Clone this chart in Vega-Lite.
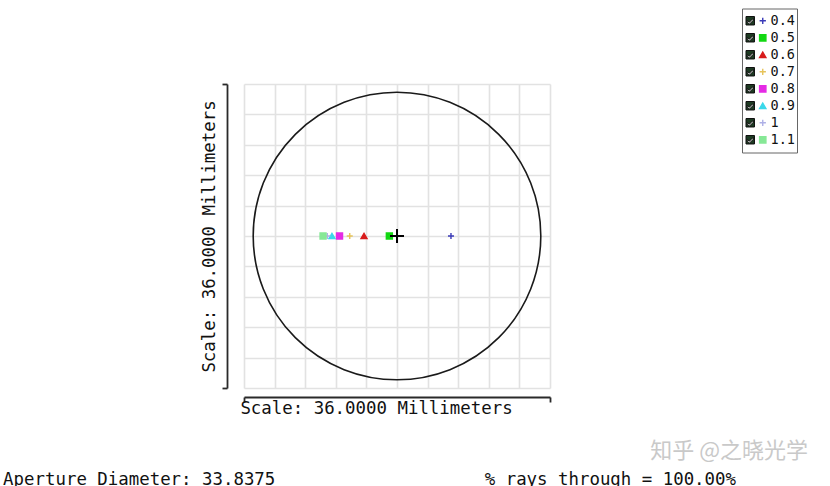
{
  "$schema": "https://vega.github.io/schema/vega-lite/v6.json",
  "width": 306,
  "height": 304,
  "autosize": {"type": "none"},
  "padding": {"left": 244, "top": 84, "right": 280, "bottom": 98},
  "background": "white",
  "config": {"view": {"stroke": null}, "font": "DejaVu Sans Mono"},
  "datasets": {
    "spots": [
      {"wavelength": "0.4", "x": 6.35, "y": 0},
      {"wavelength": "0.5", "x": -0.9, "y": 0},
      {"wavelength": "0.6", "x": -3.88, "y": 0},
      {"wavelength": "0.7", "x": -5.56, "y": 0},
      {"wavelength": "0.8", "x": -6.76, "y": 0},
      {"wavelength": "0.9", "x": -7.65, "y": 0},
      {"wavelength": "1", "x": -8.2, "y": 0},
      {"wavelength": "1.1", "x": -8.7, "y": 0}
    ],
    "legendItems": [
      {"wavelength": "0.4"}, {"wavelength": "0.5"}, {"wavelength": "0.6"}, {"wavelength": "0.7"},
      {"wavelength": "0.8"}, {"wavelength": "0.9"}, {"wavelength": "1"}, {"wavelength": "1.1"}
    ],
    "aperture": [{"x": 0, "y": 0, "diameter": 33.8375}],
    "chief": [{"x": 0, "y": 0}]
  },
  "title": {
    "text": "知乎 @之晓光学",
    "subtitle": "Aperture Diameter: 33.8375\u00a0\u00a0\u00a0\u00a0\u00a0\u00a0\u00a0\u00a0\u00a0\u00a0\u00a0\u00a0\u00a0\u00a0\u00a0\u00a0\u00a0\u00a0\u00a0\u00a0% rays through = 100.00%\u2800\u2800\u2800\u2800\u2800\u2800",
    "orient": "bottom",
    "anchor": "end",
    "frame": "group",
    "dx": 258,
    "offset": 25,
    "font": "Noto Sans CJK SC",
    "fontSize": 22,
    "fontWeight": "normal",
    "color": "#c9c9c9",
    "subtitleFont": "DejaVu Sans Mono",
    "subtitleFontSize": 17.4,
    "subtitleColor": "#111111",
    "subtitlePadding": 8
  },
  "layer": [
    {
      "data": {"name": "aperture"},
      "mark": {"type": "point", "shape": "circle", "filled": false, "stroke": "#1a1a1a", "strokeWidth": 1.6, "opacity": 1},
      "encoding": {
        "x": {
          "field": "x", "type": "quantitative",
          "scale": {"domain": [-18, 18], "nice": false, "zero": false},
          "axis": {
            "values": [-18, -14.4, -10.8, -7.2, -3.6, 0, 3.6, 7.2, 10.8, 14.4, 18],
            "tickCount": 40,
            "grid": true, "gridColor": "#e2e2e2", "gridWidth": 1.6,
            "labels": false,
            "domain": true, "domainColor": "#2a2a2a", "domainWidth": 1.8,
            "ticks": true, "tickColor": "#2a2a2a", "tickWidth": 1.8, "tickSize": 5,
            "tickOpacity": {"condition": {"test": "abs(datum.value) > 17", "value": 1}, "value": 0},
            "offset": 9,
            "title": "Scale: 36.0000 Millimeters",
            "titleFont": "DejaVu Sans Mono", "titleFontSize": 17.4, "titleFontWeight": "normal", "titleColor": "#111111",
            "titleX": 132, "titleY": 16, "titleBaseline": "alphabetic", "titleAlign": "center"
          }
        },
        "y": {
          "field": "y", "type": "quantitative",
          "scale": {"domain": [-18, 18], "nice": false, "zero": false},
          "axis": {
            "values": [-18, -14.4, -10.8, -7.2, -3.6, 0, 3.6, 7.2, 10.8, 14.4, 18],
            "tickCount": 40,
            "grid": true, "gridColor": "#e2e2e2", "gridWidth": 1.6,
            "labels": false,
            "domain": true, "domainColor": "#2a2a2a", "domainWidth": 1.8,
            "ticks": true, "tickColor": "#2a2a2a", "tickWidth": 1.8, "tickSize": 5,
            "tickOpacity": {"condition": {"test": "abs(datum.value) > 17", "value": 1}, "value": 0},
            "offset": 17,
            "title": "Scale: 36.0000 Millimeters",
            "titleFont": "DejaVu Sans Mono", "titleFontSize": 17.4, "titleFontWeight": "normal", "titleColor": "#111111",
            "titleX": -13, "titleY": 152, "titleBaseline": "alphabetic", "titleAlign": "center", "titleAngle": -90
          }
        },
        "size": {
          "field": "diameter", "type": "quantitative",
          "scale": {"type": "pow", "exponent": 2, "domain": [0, 36], "range": [0, 93636]},
          "legend": null
        }
      }
    },
    {
      "data": {"name": "spots"},
      "mark": {"type": "point", "filled": true, "size": 36, "strokeWidth": 1.4, "opacity": 1},
      "encoding": {
        "x": {"field": "x", "type": "quantitative"},
        "y": {"field": "y", "type": "quantitative"},
        "color": {
          "field": "wavelength", "type": "nominal",
          "scale": {
            "domain": ["0.4", "0.5", "0.6", "0.7", "0.8", "0.9", "1", "1.1"],
            "range": ["#3a3ab8", "#12d812", "#d81c1c", "#e6c35a", "#e52ae5", "#3ad8ea", "#aeb0e6", "#86e896"]
          },
          "legend": {
            "orient": "none", "legendX": 512, "legendY": -69.95,
            "title": null, "padding": 0,
            "labelFont": "DejaVu Sans Mono", "labelFontSize": 13.5, "labelColor": "#111111",
            "labelOffset": 1, "rowPadding": 2, "symbolSize": 40, "symbolStrokeWidth": 1.4, "zindex": 1
          }
        },
        "stroke": {
          "field": "wavelength", "type": "nominal",
          "scale": {
            "domain": ["0.4", "0.5", "0.6", "0.7", "0.8", "0.9", "1", "1.1"],
            "range": ["#3a3ab8", "#12d812", "#d81c1c", "#e6c35a", "#e52ae5", "#3ad8ea", "#aeb0e6", "#86e896"]
          },
          "legend": {
            "orient": "none", "legendX": 512, "legendY": -69.95,
            "title": null, "padding": 0,
            "labelFont": "DejaVu Sans Mono", "labelFontSize": 13.5, "labelColor": "#111111",
            "labelOffset": 1, "rowPadding": 2, "symbolSize": 40, "symbolStrokeWidth": 1.4, "zindex": 1
          }
        },
        "shape": {
          "field": "wavelength", "type": "nominal",
          "scale": {
            "domain": ["0.4", "0.5", "0.6", "0.7", "0.8", "0.9", "1", "1.1"],
            "range": ["M-1,0H1M0,-1V1", "square", "triangle-up", "M-1,0H1M0,-1V1", "square", "triangle-up", "M-1,0H1M0,-1V1", "square"]
          },
          "legend": {
            "orient": "none", "legendX": 512, "legendY": -69.95,
            "title": null, "padding": 0,
            "labelFont": "DejaVu Sans Mono", "labelFontSize": 13.5, "labelColor": "#111111",
            "labelOffset": 1, "rowPadding": 2, "symbolSize": 40, "symbolStrokeWidth": 1.4, "zindex": 1
          }
        }
      }
    },
    {
      "data": {"name": "chief"},
      "mark": {"type": "point", "shape": "M-1,0H1M0,-1V1", "filled": false, "stroke": "#000000", "strokeWidth": 2, "size": 196, "opacity": 1},
      "encoding": {
        "x": {"field": "x", "type": "quantitative"},
        "y": {"field": "y", "type": "quantitative"}
      }
    },
    {
      "data": {"name": "legendItems"},
      "mark": {"type": "point", "filled": true, "opacity": 0},
      "encoding": {
        "fill": {
          "field": "wavelength", "type": "nominal",
          "scale": {
            "range": ["#1d3a22", "#1d3a22", "#1d3a22", "#1d3a22", "#1d3a22", "#1d3a22", "#1d3a22", "#1d3a22"]
          },
          "legend": {
            "orient": "none", "legendX": 498, "legendY": -75.5,
            "title": null, "padding": 5.5,
            "strokeColor": "#666666",
            "symbolType": "M-1,-1H1V1H-1Z M-0.7,-0.1 L-0.7,0.3 L-0.2,0.8 L0.65,-0.05 L0.65,-0.55 L-0.2,0.35 Z",
            "symbolSize": 72, "symbolStrokeColor": "#111111", "symbolStrokeWidth": 1, "symbolOpacity": 1,
            "symbolOffset": -4,
            "labelExpr": "''",
            "labelFont": "DejaVu Sans Mono", "labelFontSize": 13.5,
            "labelOffset": 34, "rowPadding": 2, "zindex": 0
          }
        }
      }
    }
  ]
}
